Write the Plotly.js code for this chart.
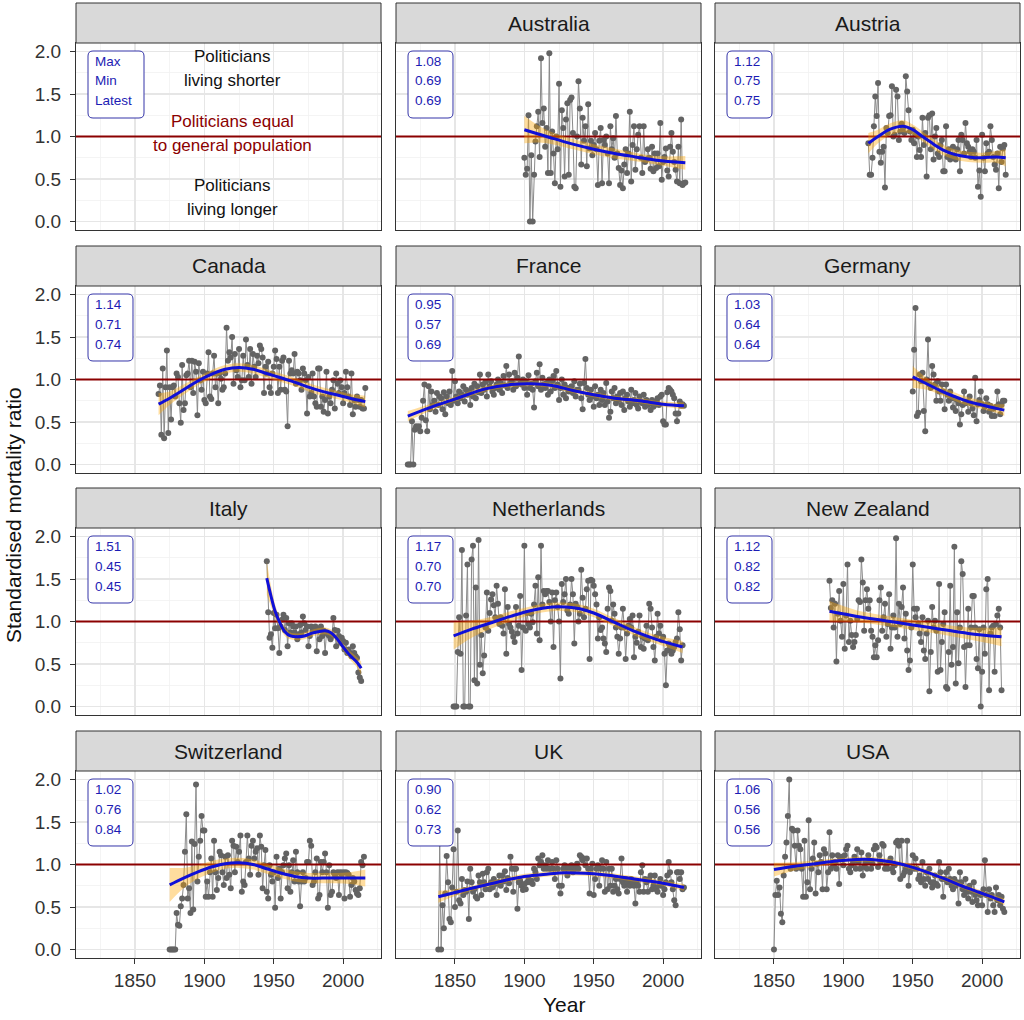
<!DOCTYPE html>
<html><head><meta charset="utf-8">
<script src="https://cdn.plot.ly/plotly-3.0.1.min.js"></script>
<style>html,body{margin:0;padding:0;background:#fff}#chart{width:1024px;height:1020px}</style>
</head><body><div id="chart"></div>
<script>
// ---------------- DATA ----------------
const xRange = [1807.5, 2027.3];
const yRange = [-0.1, 2.1];
const panelNames = ['', 'Australia', 'Austria', 'Canada', 'France', 'Germany', 'Italy', 'Netherlands', 'New Zealand', 'Switzerland', 'UK', 'USA'];
const panelLabels = [['Max','Min','Latest'], ['1.08','0.69','0.69'], ['1.12','0.75','0.75'], ['1.14','0.71','0.74'], ['0.95','0.57','0.69'], ['1.03','0.64','0.64'], ['1.51','0.45','0.45'], ['1.17','0.70','0.70'], ['1.12','0.82','0.82'], ['1.02','0.76','0.84'], ['0.90','0.62','0.73'], ['1.06','0.56','0.56']];
const guideLines = ['Politicians', 'living shorter', 'Politicians equal', 'to general population', 'Politicians', 'living longer'];
const guideY = [1.94, 1.66, 1.18, 0.89, 0.42, 0.14];
const guideX = 1920;

const ausStart = 1900;
const ausSMR = [0.75,0.55,0.62,1.25,0.00,0.78,0.00,0.55,0.94,1.12,
 1.29,0.76,1.92,1.16,1.33,0.88,1.10,0.57,1.98,0.57,
 1.06,0.80,0.45,1.00,0.85,1.62,0.41,1.31,1.10,0.53,
 1.20,1.39,0.55,1.43,1.46,1.04,0.41,0.39,1.00,1.65,
 1.33,0.67,1.22,0.95,1.12,0.65,1.38,0.86,0.95,0.78,
 0.90,1.04,0.85,0.43,0.95,1.10,0.45,0.96,0.90,1.00,
 0.80,0.45,1.12,0.85,0.98,0.75,1.24,0.80,0.63,0.43,
 0.60,0.39,0.67,0.85,0.57,0.80,1.29,0.47,0.90,1.12,
 0.61,0.85,1.02,1.12,0.75,0.57,1.12,0.70,0.73,0.85,
 0.75,0.62,0.88,0.59,0.80,0.63,0.80,0.65,1.16,0.49,
 0.70,0.76,0.86,0.60,0.53,0.88,1.04,0.82,0.70,0.61,
 0.47,0.88,0.45,1.20,0.43,0.45,0.46];
const ausFitYears = [1900,1910,1920,1935,1950,1965,1980,1995,2016];
const ausFit      = [1.08,1.03,0.98,0.91,0.85,0.80,0.76,0.72,0.69];
const ausFitSE    = [0.16,0.10,0.07,0.06,0.06,0.06,0.05,0.05,0.08];

const autStart = 1918;
const autSMR = [0.92,0.55,0.55,0.75,1.12,1.47,1.24,1.63,0.82,0.69,
 0.82,0.88,0.40,1.10,1.04,1.24,1.25,1.59,1.00,1.02,
 1.55,1.47,0.96,1.06,1.15,1.10,1.04,1.71,1.53,1.31,
 1.06,0.96,1.08,0.92,1.02,0.76,1.00,0.84,0.76,1.22,
 0.90,1.04,0.53,1.22,1.25,0.85,1.27,0.73,1.00,1.10,
 0.80,0.76,0.90,0.96,0.59,0.59,1.12,0.76,0.85,0.73,
 0.76,0.88,0.78,0.73,0.85,0.96,0.59,1.02,0.96,0.80,
 1.16,0.92,0.88,0.82,0.76,0.85,0.82,0.75,0.96,0.41,
 0.60,0.29,1.02,0.75,0.59,0.92,0.80,0.82,1.12,0.96,
 0.76,0.67,0.61,0.80,0.39,0.88,0.70,0.86,0.90,0.55];
const autFitYears = [1918,1925,1933,1943,1950,1957,1965,1972,1980,1990,2000,2010,2017];
const autFit      = [0.92,1.00,1.08,1.12,1.08,1.00,0.91,0.84,0.79,0.76,0.75,0.76,0.75];
const autFitSE    = [0.12,0.08,0.07,0.07,0.06,0.06,0.06,0.06,0.06,0.06,0.06,0.07,0.10];

const canStart = 1867;
const canSMR = [0.83,0.93,0.35,1.13,0.31,0.91,1.34,0.37,0.91,0.53,
 0.91,0.93,0.80,1.07,1.03,0.72,0.49,1.17,0.64,0.72,
 1.05,1.07,1.22,0.91,1.22,0.84,1.21,1.09,0.58,1.19,
 0.99,0.88,1.09,0.76,0.72,1.07,1.32,0.80,0.77,1.07,
 1.28,0.91,1.07,0.72,1.07,1.01,0.88,0.91,1.07,1.61,
 1.22,1.32,1.26,1.50,0.95,1.30,1.11,1.03,1.36,0.91,
 0.99,1.28,0.99,1.47,1.17,1.03,1.36,0.95,1.30,1.15,
 1.03,1.28,1.19,1.40,1.36,1.26,0.84,1.15,1.07,1.21,
 0.91,0.84,1.07,1.15,1.34,1.24,0.84,1.15,0.88,1.22,
 1.26,0.88,0.86,0.45,1.22,1.07,1.11,1.07,1.30,0.95,
 1.09,1.07,0.99,0.88,1.13,1.07,0.99,0.60,1.03,0.80,
 0.84,1.07,0.80,0.72,0.68,1.13,1.13,0.68,0.80,0.62,
 0.76,1.09,0.60,0.80,0.72,0.88,0.99,0.66,1.07,0.95,
 0.84,0.99,0.91,0.72,0.84,1.09,0.91,0.80,0.70,1.07,
 0.59,0.76,0.68,0.80,0.76,0.68,0.76,0.66,0.66,0.90];
const canFitYears = [1867,1875,1885,1895,1905,1915,1925,1935,1945,1955,1965,1975,1985,1995,2005,2016];
const canFit      = [0.71,0.78,0.88,0.98,1.06,1.12,1.14,1.12,1.07,1.02,0.97,0.91,0.86,0.82,0.78,0.74];
const canFitSE    = [0.13,0.08,0.06,0.05,0.05,0.05,0.05,0.05,0.05,0.05,0.05,0.05,0.05,0.05,0.05,0.07];

const fraStart = 1816;
const fraSMR = [0.00,0.00,0.00,0.51,0.00,0.41,0.45,0.43,0.45,0.39,
 0.55,0.75,0.94,0.52,0.39,0.92,0.65,0.86,0.70,0.75,
 0.62,0.84,0.70,0.80,0.78,0.65,0.85,0.59,0.80,0.72,
 0.86,0.70,1.10,0.75,0.98,0.80,0.72,0.86,0.78,0.82,
 0.92,0.74,0.88,0.82,0.86,0.70,0.90,0.80,0.95,0.78,
 0.92,0.85,1.06,0.84,0.94,0.88,0.97,0.80,1.06,0.92,
 0.98,0.86,0.82,0.90,0.94,1.00,0.88,0.96,0.84,1.04,
 0.93,1.16,0.90,1.06,0.95,0.98,0.88,1.08,0.92,1.02,
 1.27,0.96,0.94,1.00,0.90,0.98,0.82,1.05,0.90,0.95,
 0.88,0.67,0.98,1.08,0.92,1.18,0.88,1.02,0.94,0.90,
 0.96,0.82,1.00,0.86,0.98,1.04,0.90,1.10,0.94,0.76,
 0.90,1.00,0.82,0.94,0.78,0.90,0.86,0.90,0.92,0.84,
 0.98,0.80,0.88,0.88,0.95,0.78,0.65,0.96,1.24,0.90,
 0.82,0.76,0.88,0.80,0.68,0.92,0.78,0.82,0.70,0.88,
 0.76,0.84,0.70,0.96,0.74,0.55,0.62,0.86,0.78,0.90,
 0.72,0.80,0.76,0.84,0.70,0.86,0.64,0.78,0.82,0.74,
 0.68,0.88,0.72,0.76,0.84,0.70,0.66,0.80,0.74,0.72,
 0.82,0.68,0.76,0.70,0.72,0.64,0.76,0.68,0.70,0.74,
 0.78,0.70,0.80,0.82,0.51,0.47,0.47,0.85,0.90,0.88,
 0.86,0.82,0.78,0.60,0.51,0.60,0.74,0.69,0.71,0.69];
const fraFitYears = [1816,1832,1850,1872,1890,1905,1920,1935,1950,1965,1983,2000,2015];
const fraFit      = [0.57,0.67,0.77,0.89,0.94,0.95,0.93,0.87,0.82,0.78,0.75,0.71,0.69];
const fraFitSE    = [0.06,0.04,0.03,0.03,0.03,0.03,0.03,0.03,0.03,0.03,0.03,0.03,0.04];

const gerStart = 1950;
const gerSMR = [0.86,1.35,1.84,0.57,0.61,1.06,0.98,1.08,0.63,0.39,
 1.00,1.47,0.94,0.90,1.16,1.06,0.94,0.75,0.98,0.86,
 0.75,0.94,0.86,0.65,0.94,0.82,0.75,0.86,0.78,0.67,
 0.78,0.63,0.76,0.72,0.47,0.59,0.70,0.86,0.72,0.74,
 0.62,0.80,0.72,0.66,0.58,1.02,0.51,0.71,0.76,0.86,
 0.71,0.63,0.68,0.78,0.71,0.62,0.69,0.57,0.66,0.57,
 0.68,0.86,0.71,0.59,0.70,0.75,0.75];
const gerFitYears = [1950,1960,1970,1980,1990,2000,2010,2016];
const gerFit      = [1.03,0.95,0.87,0.80,0.74,0.70,0.66,0.64];
const gerFitSE    = [0.13,0.07,0.05,0.05,0.05,0.05,0.05,0.07];

const itaStart = 1945;
const itaSMR = [1.71,1.11,0.81,0.85,0.69,1.10,0.92,1.08,0.92,0.63,
 0.94,1.02,1.08,0.90,1.04,0.71,0.98,0.87,0.98,0.94,
 0.87,0.94,0.79,0.85,0.96,0.87,1.06,0.98,0.90,0.94,
 0.71,0.83,0.94,0.89,0.90,0.94,0.65,0.90,0.79,0.94,
 0.83,0.89,0.63,0.87,0.85,0.83,0.79,0.83,1.04,0.90,
 0.71,0.89,0.83,0.75,0.81,0.77,0.67,0.75,0.63,0.67,
 0.63,0.59,0.71,0.63,0.59,0.57,0.40,0.34,0.30];
const itaFitYears = [1945,1948,1951,1954,1958,1962,1967,1972,1977,1982,1987,1991,1995,2000,2005,2010,2013];
const itaFit      = [1.51,1.30,1.12,1.00,0.88,0.83,0.82,0.83,0.86,0.88,0.89,0.87,0.81,0.70,0.60,0.52,0.45];
const itaFitSE    = [0.20,0.12,0.08,0.06,0.05,0.04,0.04,0.04,0.04,0.04,0.04,0.04,0.04,0.04,0.05,0.06,0.08];

const nldStart = 1849;
const nldSMR = [0.00,0.00,0.00,0.64,1.05,0.62,1.84,0.00,0.00,1.07,
 1.67,0.00,0.00,1.73,1.89,0.31,1.40,0.27,1.96,0.49,
 0.84,0.39,0.60,0.93,1.34,0.89,1.10,1.26,1.32,1.19,
 1.05,1.42,1.21,0.97,1.05,0.95,0.86,1.38,0.62,1.17,
 0.97,0.93,0.88,0.82,0.76,1.17,0.86,0.95,1.30,0.43,
 0.93,1.89,0.89,1.10,0.97,0.93,1.09,0.99,1.20,1.42,
 0.86,1.52,0.78,1.89,1.20,1.36,1.32,1.36,1.36,1.23,
 1.00,1.34,0.70,1.25,1.34,1.17,1.00,0.33,1.44,1.23,
 1.32,1.50,1.13,1.09,1.20,1.50,1.32,0.74,1.21,1.17,
 1.00,1.09,1.61,1.28,1.05,1.15,1.38,1.48,0.56,1.49,
 1.48,1.42,1.32,1.20,0.80,1.05,0.90,0.93,0.80,0.74,
 0.64,1.15,1.40,1.36,1.01,1.20,1.09,0.93,0.82,0.62,
 0.80,0.93,1.15,0.93,0.56,0.86,0.95,1.03,0.93,1.07,
 0.58,0.82,0.75,0.88,1.07,0.70,0.82,0.68,0.80,0.95,
 0.78,1.21,1.15,0.93,0.70,0.54,0.82,1.09,0.86,0.95,
 0.78,0.82,0.62,0.25,0.66,0.74,0.70,0.62,0.66,0.70,
 0.76,0.80,1.11,0.91,0.54,0.72];
const nldFitYears = [1849,1862,1875,1890,1905,1920,1930,1940,1950,1965,1980,1995,2014];
const nldFit      = [0.83,0.91,0.98,1.06,1.13,1.17,1.17,1.15,1.10,0.99,0.88,0.79,0.70];
const nldFitSE    = [0.16,0.10,0.07,0.06,0.05,0.05,0.05,0.05,0.05,0.05,0.05,0.05,0.07];

const nzlStart = 1890;
const nzlSMR = [1.48,1.16,1.25,0.93,1.21,0.53,1.09,1.36,1.01,0.82,
 1.44,0.68,1.07,1.67,0.76,1.01,0.84,0.70,0.76,0.84,
 1.03,1.25,1.23,1.73,1.46,0.89,1.25,1.38,1.15,1.25,
 0.89,0.82,0.58,0.72,0.58,0.78,1.25,1.40,0.89,1.05,
 1.21,0.82,0.97,1.32,0.68,0.93,1.07,0.93,1.98,0.82,
 1.21,0.97,1.17,1.40,0.80,1.09,0.66,0.43,0.54,0.93,
 1.67,1.15,1.05,1.15,0.97,0.86,0.76,1.05,0.66,0.56,
 0.86,1.01,0.18,0.64,1.17,0.93,1.01,0.89,0.41,1.44,
 0.43,0.76,0.97,1.11,0.23,0.21,0.64,1.42,0.49,0.70,
 1.88,0.27,1.11,0.51,0.93,1.71,1.56,0.70,0.23,0.72,
 1.15,0.72,0.93,1.30,1.30,0.93,0.56,0.45,0.91,0.00,
 0.41,0.93,0.62,1.38,1.50,0.19,0.86,0.93,0.95,0.41,
 0.97,1.07,1.15,0.93,0.19];
const nzlFitYears = [1890,1910,1930,1950,1970,1990,2014];
const nzlFit      = [1.12,1.06,1.01,0.96,0.91,0.86,0.82];
const nzlFitSE    = [0.12,0.07,0.06,0.06,0.06,0.07,0.11];

const cheStart = 1875;
const cheSMR = [0.00,0.00,0.00,0.00,0.00,0.43,0.29,0.28,0.51,0.60,
 0.76,1.15,1.59,0.60,0.72,0.43,1.27,0.47,1.24,1.94,
 0.80,1.09,1.28,1.57,1.40,1.40,0.62,0.80,0.62,0.91,
 1.07,0.62,1.28,0.91,0.70,0.84,1.15,1.11,0.91,0.76,
 1.09,0.84,1.11,0.88,0.72,1.28,1.22,0.91,1.21,1.03,
 1.15,1.34,0.68,0.80,0.76,1.03,1.34,1.07,0.88,1.22,
 1.28,1.07,1.15,1.19,0.88,1.34,1.21,0.72,0.99,1.17,
 0.68,0.60,0.99,0.88,0.80,0.91,0.49,1.09,0.84,0.95,
 0.60,0.91,0.99,1.07,1.13,0.72,0.99,0.68,0.91,1.05,
 0.80,1.15,0.91,0.80,0.51,0.80,0.91,0.80,0.84,1.03,
 1.03,1.28,1.22,0.76,0.80,0.91,1.07,0.60,0.64,1.03,
 0.91,1.03,1.13,0.91,0.49,0.99,0.64,0.68,0.91,0.88,
 0.84,0.91,0.64,0.91,0.88,0.91,0.60,0.91,0.90,0.88,
 0.62,0.76,0.84,0.80,0.70,0.66,0.64,0.72,1.03,0.99,1.09];
const cheFitYears = [1875,1885,1895,1905,1915,1925,1935,1945,1955,1965,1975,1985,1995,2005,2016];
const cheFit      = [0.76,0.84,0.91,0.97,1.01,1.02,1.00,0.95,0.90,0.86,0.84,0.84,0.84,0.84,0.84];
const cheFitSE    = [0.20,0.12,0.08,0.07,0.06,0.06,0.06,0.06,0.06,0.06,0.06,0.06,0.06,0.07,0.10];

const gbrStart = 1838;
const gbrSMR = [0.00,1.25,0.00,0.52,0.25,0.66,1.10,0.79,0.36,0.32,
 0.73,1.18,0.50,0.68,1.40,0.58,0.54,0.83,0.64,0.70,
 0.68,0.80,0.36,0.95,0.79,0.68,0.71,0.62,0.60,0.87,
 0.79,0.64,0.89,0.79,0.71,0.91,0.95,0.71,0.79,0.73,
 0.83,0.77,0.64,0.79,0.87,0.75,0.87,0.80,0.92,0.70,
 0.84,0.78,1.09,0.95,0.68,0.95,0.95,0.48,0.79,0.81,
 0.75,0.70,0.77,0.71,0.79,0.83,0.79,0.81,0.77,0.95,
 0.91,0.83,1.07,0.99,1.03,1.11,0.95,0.99,0.95,1.05,
 0.95,0.95,1.03,0.95,0.83,1.05,0.95,0.75,0.66,0.75,
 0.95,0.99,0.95,0.87,0.97,0.95,0.99,0.91,0.97,0.95,
 1.01,0.95,1.11,1.09,1.05,1.07,0.99,1.07,0.95,0.66,
 0.95,1.01,0.64,0.83,0.95,0.99,0.75,0.95,1.05,0.95,
 0.68,1.03,0.71,0.95,0.75,0.95,0.68,0.75,0.83,0.71,
 0.66,0.83,1.07,0.79,0.75,0.83,0.68,0.79,0.75,0.83,
 0.79,0.75,0.54,0.79,0.75,0.68,0.91,0.99,0.68,0.83,
 0.79,0.68,0.83,0.87,0.71,0.75,0.87,0.71,0.68,0.75,
 0.83,0.75,0.64,0.71,0.79,0.87,1.03,0.91,0.79,0.71,
 0.58,0.52,0.91,0.91,0.83,0.91,0.71,0.73];
const gbrFitYears = [1838,1850,1862,1875,1888,1900,1912,1925,1937,1950,1962,1975,1988,2000,2015];
const gbrFit      = [0.62,0.67,0.72,0.77,0.82,0.86,0.88,0.90,0.90,0.89,0.87,0.84,0.81,0.78,0.73];
const gbrFitSE    = [0.07,0.04,0.03,0.03,0.03,0.03,0.03,0.03,0.03,0.03,0.03,0.03,0.03,0.03,0.04];

const usaStart = 1850;
const usaSMR = [0.00,0.64,0.81,0.64,0.73,0.42,0.32,0.87,1.09,1.26,
 1.57,2.00,0.95,1.42,1.40,1.22,0.95,1.40,1.22,1.18,
 0.95,0.62,1.28,0.62,0.79,1.52,0.71,0.95,1.07,1.26,
 0.66,1.01,0.91,1.11,1.03,0.71,1.18,1.13,0.71,0.91,
 1.38,0.95,1.11,0.99,1.03,0.95,1.11,0.77,1.07,1.09,
 0.99,1.11,1.18,1.22,0.95,0.91,0.99,1.03,1.09,0.95,
 1.18,1.03,0.95,1.14,0.87,0.97,1.03,0.95,1.11,1.03,
 0.95,1.01,1.18,1.22,1.20,0.97,1.11,1.03,1.24,1.22,
 0.95,0.99,0.95,1.03,1.07,0.95,0.91,0.99,1.26,1.28,
 1.22,0.83,1.28,0.87,0.91,0.95,1.28,0.75,0.91,0.95,
 1.11,0.95,1.07,0.95,0.83,0.87,0.79,1.03,0.83,0.75,
 0.91,0.83,0.95,0.79,0.73,0.79,0.87,0.77,0.75,1.03,
 0.91,0.83,0.62,0.83,0.91,0.79,0.95,0.83,0.75,0.71,
 0.83,0.75,0.79,0.54,0.91,0.79,0.71,0.64,0.83,0.68,
 0.60,0.75,0.68,0.56,0.79,0.64,0.58,0.52,0.66,0.64,
 0.52,0.71,1.05,0.64,0.44,0.71,0.60,0.64,0.52,0.44,
 0.73,0.58,0.64,0.52,0.62,0.48,0.44];
const usaFitYears = [1850,1865,1880,1895,1910,1920,1935,1945,1955,1965,1975,1985,1995,2005,2016];
const usaFit      = [0.94,0.98,1.01,1.04,1.06,1.06,1.03,0.99,0.94,0.88,0.82,0.75,0.69,0.63,0.56];
const usaFitSE    = [0.08,0.05,0.04,0.03,0.03,0.03,0.03,0.03,0.03,0.03,0.03,0.03,0.03,0.03,0.04];

// ---------------- BUILD ----------------
const panelData = [
  null,
  [ausStart, ausSMR, ausFitYears, ausFit, ausFitSE],
  [autStart, autSMR, autFitYears, autFit, autFitSE],
  [canStart, canSMR, canFitYears, canFit, canFitSE],
  [fraStart, fraSMR, fraFitYears, fraFit, fraFitSE],
  [gerStart, gerSMR, gerFitYears, gerFit, gerFitSE],
  [itaStart, itaSMR, itaFitYears, itaFit, itaFitSE],
  [nldStart, nldSMR, nldFitYears, nldFit, nldFitSE],
  [nzlStart, nzlSMR, nzlFitYears, nzlFit, nzlFitSE],
  [cheStart, cheSMR, cheFitYears, cheFit, cheFitSE],
  [gbrStart, gbrSMR, gbrFitYears, gbrFit, gbrFitSE],
  [usaStart, usaSMR, usaFitYears, usaFit, usaFitSE]
];

const FONT = '"Liberation Sans", Arial, Helvetica, sans-serif';
const W = 1024, H = 1020;
const colL = [76, 396, 715], colW = 305;
const rowT = [43, 286, 528, 771], rowH = 187, stripH = 40;
const px = v => v / W;
const py = v => 1 - v / H;

const BLUE_TXT = '#1c1cb4';
const BOX_LINE = '#3434a8';
const DARKRED = '#8b0000';

const traces = [];
const shapes = [];
const annotations = [];
const layout = {
  width: W, height: H,
  margin: {l: 0, r: 0, t: 0, b: 0},
  paper_bgcolor: '#ffffff', plot_bgcolor: '#ffffff',
  showlegend: false, hovermode: false,
  font: {family: FONT, color: '#1a1a1a'}
};

function roundRectPath(x0, y0, x1, y1, r) {
  const X = v => px(v).toFixed(5), Y = v => py(v).toFixed(5);
  return 'M' + X(x0 + r) + ',' + Y(y0) +
    ' L' + X(x1 - r) + ',' + Y(y0) +
    ' Q' + X(x1) + ',' + Y(y0) + ' ' + X(x1) + ',' + Y(y0 + r) +
    ' L' + X(x1) + ',' + Y(y1 - r) +
    ' Q' + X(x1) + ',' + Y(y1) + ' ' + X(x1 - r) + ',' + Y(y1) +
    ' L' + X(x0 + r) + ',' + Y(y1) +
    ' Q' + X(x0) + ',' + Y(y1) + ' ' + X(x0) + ',' + Y(y1 - r) +
    ' L' + X(x0) + ',' + Y(y0 + r) +
    ' Q' + X(x0) + ',' + Y(y0) + ' ' + X(x0 + r) + ',' + Y(y0) + ' Z';
}

panelNames.forEach((name, i) => {
  const r = Math.floor(i / 3), c = i % 3, n = i + 1;
  const sfx = n === 1 ? '' : String(n);
  const xa = 'x' + sfx, ya = 'y' + sfx;
  const bottomRow = r === 3, leftCol = c === 0;

  layout['xaxis' + sfx] = {
    domain: [px(colL[c]), px(colL[c] + colW)],
    anchor: ya, range: xRange, autorange: false, fixedrange: true,
    tick0: 1850, dtick: 50,
    showgrid: true, gridcolor: '#e6e6e6', gridwidth: 1.4,
    minor: {tick0: 1825, dtick: 25, showgrid: true, gridcolor: '#f1f1f1', gridwidth: 0.8, ticks: ''},
    zeroline: false, showline: true, mirror: true, linecolor: '#333333', linewidth: 1,
    ticks: bottomRow ? 'outside' : '', ticklen: 5, tickwidth: 1, tickcolor: '#333333',
    showticklabels: bottomRow, ticklabelstandoff: 0,
    tickfont: {family: FONT, size: 19, color: '#333333'}
  };
  layout['yaxis' + sfx] = {
    domain: [py(rowT[r] + rowH), py(rowT[r])],
    anchor: xa, range: yRange, autorange: false, fixedrange: true,
    tick0: 0, dtick: 0.5, tickformat: '.1f',
    showgrid: true, gridcolor: '#e6e6e6', gridwidth: 1.4,
    minor: {tick0: 0.25, dtick: 0.25, showgrid: true, gridcolor: '#f1f1f1', gridwidth: 0.8, ticks: ''},
    zeroline: false, showline: true, mirror: true, linecolor: '#333333', linewidth: 1,
    ticks: leftCol ? 'outside' : '', ticklen: 5, tickwidth: 1, tickcolor: '#333333',
    showticklabels: leftCol, ticklabelstandoff: 5,
    tickfont: {family: FONT, size: 19, color: '#333333'}
  };

  const d = panelData[i];
  if (d) {
    const [start, smr] = d;
    const years = smr.map((_, k) => start + k);
    traces.push({
      type: 'scatter', mode: 'lines+markers', x: years, y: smr, xaxis: xa, yaxis: ya,
      line: {color: '#8a8a8a', width: 1},
      marker: {color: '#636363', size: 6}
    });
  }
  traces.push({
    type: 'scatter', mode: 'lines', x: xRange, y: [1, 1], xaxis: xa, yaxis: ya,
    line: {color: DARKRED, width: 2}
  });
  if (d) {
    const [, , fy, fit, se] = d;
    const lo = fit.map((v, k) => v - se[k]);
    const hi = fit.map((v, k) => v + se[k]);
    traces.push({type: 'scatter', mode: 'lines', x: fy, y: lo, xaxis: xa, yaxis: ya,
      line: {width: 0, shape: 'spline', smoothing: 1, color: 'rgba(0,0,0,0)'}});
    traces.push({type: 'scatter', mode: 'lines', x: fy, y: hi, xaxis: xa, yaxis: ya,
      fill: 'tonexty', fillcolor: 'rgba(255,165,0,0.38)',
      line: {width: 0, shape: 'spline', smoothing: 1, color: 'rgba(0,0,0,0)'}});
    traces.push({type: 'scatter', mode: 'lines', x: fy, y: fit, xaxis: xa, yaxis: ya,
      line: {color: '#1010d8', width: 3, shape: 'spline', smoothing: 1}});
  }

  // strip
  shapes.push({type: 'rect', xref: 'paper', yref: 'paper',
    x0: px(colL[c]), x1: px(colL[c] + colW), y0: py(rowT[r]), y1: py(rowT[r] - stripH),
    fillcolor: '#d9d9d9', line: {color: '#333333', width: 1}, layer: 'above'});
  if (name) {
    annotations.push({xref: 'paper', yref: 'paper', x: px(colL[c] + colW / 2), y: py(rowT[r] - stripH / 2),
      text: name, showarrow: false, xanchor: 'center', yanchor: 'middle',
      font: {family: FONT, size: 21, color: '#1a1a1a'}});
  }

  // label box
  const boxW = i === 0 ? 56 : 45;
  const bx0 = colL[c] + 12, by0 = rowT[r] + 8;
  shapes.push({type: 'path', xref: 'paper', yref: 'paper',
    path: roundRectPath(bx0, by0, bx0 + boxW, by0 + 67, 5),
    fillcolor: '#ffffff', line: {color: BOX_LINE, width: 1}, layer: 'above'});
  panelLabels[i].forEach((t, k) => {
    annotations.push({xref: 'paper', yref: 'paper', x: px(colL[c] + 17), y: py(rowT[r] + 18 + 20 * k),
      text: t, showarrow: false, xanchor: 'left', yanchor: 'middle',
      font: {family: FONT, size: 13.5, color: BLUE_TXT}});
  });

  if (i === 0) {
    guideLines.forEach((t, k) => {
      annotations.push({xref: xa, yref: ya, x: guideX, y: guideY[k], text: t, showarrow: false,
        xanchor: 'center', yanchor: 'middle',
        font: {family: FONT, size: 17, color: (k === 2 || k === 3) ? DARKRED : '#111111'}});
    });
  }
});

annotations.push({xref: 'paper', yref: 'paper', x: px(564), y: py(1004), text: 'Year', showarrow: false,
  xanchor: 'center', yanchor: 'middle', font: {family: FONT, size: 21, color: '#111111'}});
annotations.push({xref: 'paper', yref: 'paper', x: px(13), y: py(515), text: 'Standardised mortality ratio',
  showarrow: false, textangle: -90, xanchor: 'center', yanchor: 'middle',
  font: {family: FONT, size: 21, color: '#111111'}});

layout.shapes = shapes;
layout.annotations = annotations;

Plotly.newPlot('chart', traces, layout, {displayModeBar: false, staticPlot: true});
</script></body></html>
